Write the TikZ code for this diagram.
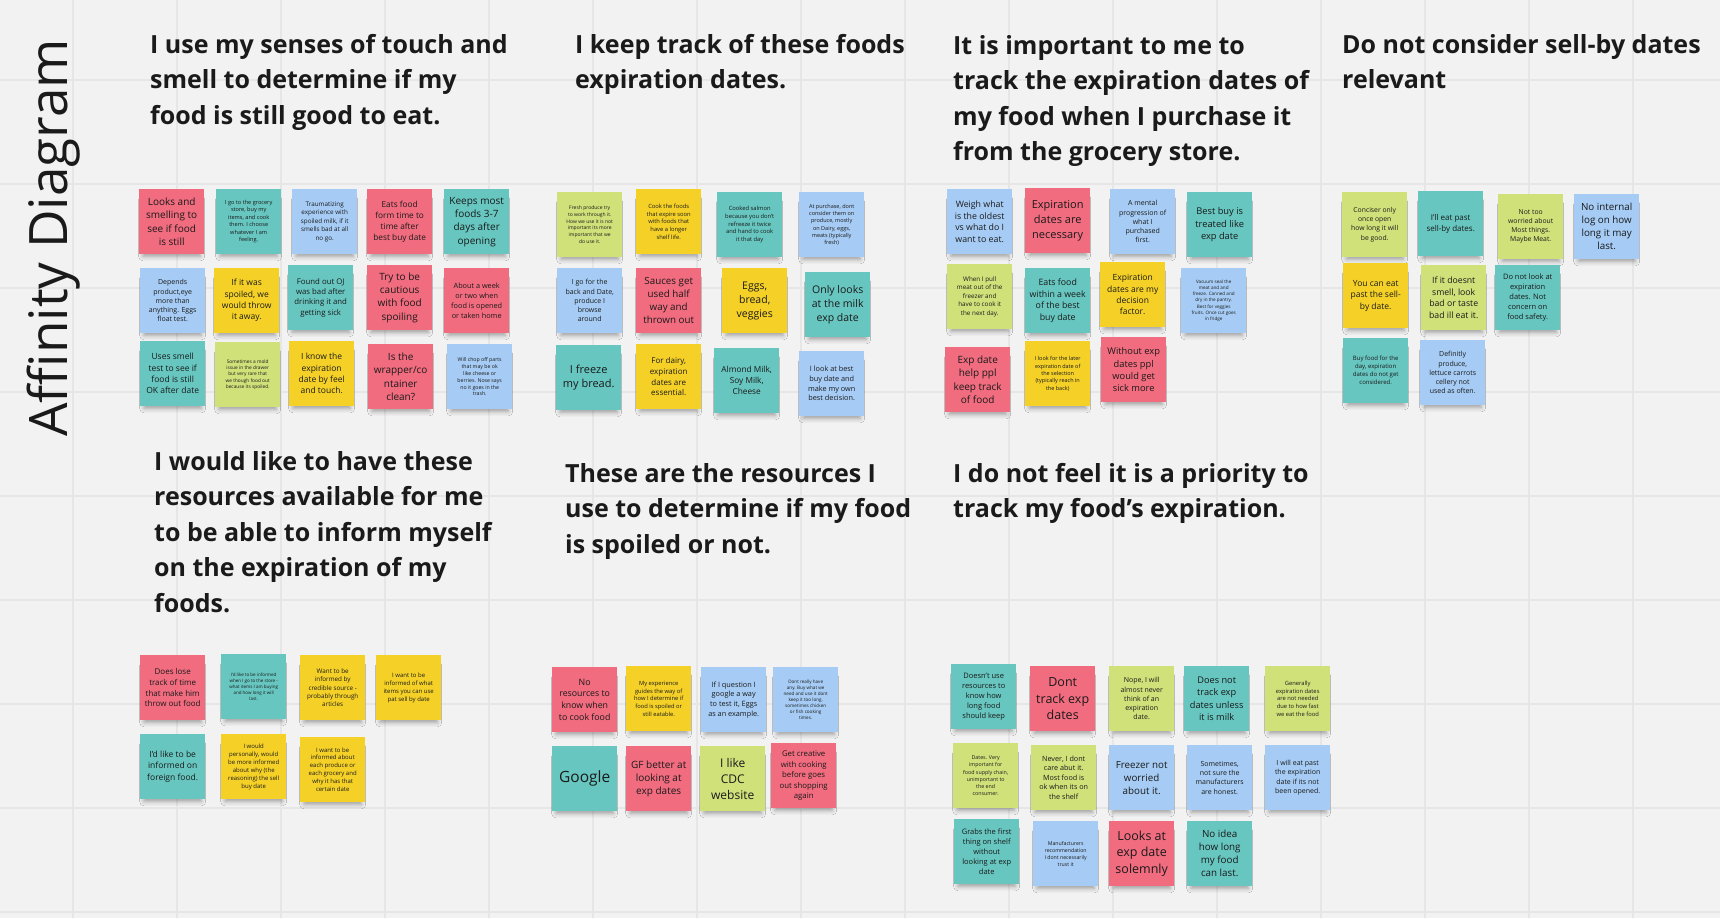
\documentclass[tikz,border=0pt]{standalone}
\usepackage{fontspec}
\setmainfont{Open Sans}
\usepackage{tikz}
\usetikzlibrary{shadows.blur}
\definecolor{BoardGray}{HTML}{F2F2F2}
\definecolor{GridGray}{HTML}{E6E6E6}
\definecolor{NotePink}{HTML}{F16C7F}
\definecolor{NoteTeal}{HTML}{67C6C0}
\definecolor{NoteBlue}{HTML}{A6CCF5}
\definecolor{NoteYellow}{HTML}{F5D128}
\definecolor{NoteLime}{HTML}{D0E17A}
\definecolor{InkText}{HTML}{1A1A1A}
\newcommand{\fs}[1]{\pgfmathsetmacro\notebls{1.33*#1}\fontsize{#1}{\notebls}\selectfont}
\tikzset{
  sticky/.style={fill=#1, minimum width=65, minimum height=65, inner sep=0pt,
    anchor=north west, align=center, text=InkText,
    blur shadow={shadow xshift=0pt, shadow yshift=-7pt, shadow blur radius=5pt,
      shadow opacity=35, shadow scale=0.88}},
  heading/.style={anchor=north west, inner sep=0pt, align=left, text=InkText,
    font=\fontsize{25}{35.5}\selectfont\bfseries},
}

\begin{document}
\begin{tikzpicture}[x=1pt, y=-1pt]
  \useasboundingbox (0,0) rectangle (1720,918);
  \fill[BoardGray] (0,0) rectangle (1720,918);
  \foreach \gx in {73,177,...,1720}
    \draw[GridGray, line width=1.2] (\gx,0) -- (\gx,918);
  \foreach \gy in {80,184,...,918}
    \draw[GridGray, line width=1.2] (0,\gy) -- (1720,\gy);

  \node (title) [rotate=90, anchor=base west, inner sep=0pt, text=InkText,
    font=\fontsize{53}{60}\selectfont] at (67,437) {Affinity Diagram};

  % headings
  \node (hSenses) [heading] at (150,34) {I use my senses of touch and\\smell to determine if my\\food is still good to eat.};
  \node (hTrack) [heading] at (575,34) {I keep track of these foods\\expiration dates.};
  \node (hPurchase) [heading] at (953,35) {It is important to me to\\track the expiration dates of\\my food when I purchase it\\from the grocery store.};
  \node (hSellby) [heading] at (1342,34) {Do not consider sell-by dates\\relevant};
  \node (hInform) [heading] at (154,451) {I would like to have these\\resources available for me\\to be able to inform myself\\on the expiration of my\\foods.};
  \node (hResources) [heading] at (565,463) {These are the resources I\\use to determine if my food\\is spoiled or not.};
  \node (hPriority) [heading] at (953,463) {I do not feel it is a priority to\\track my food's expiration.};

  % senses of touch and smell
  \node (senses1) [sticky=NotePink, font=\fs{10}] at (139,189) {Looks and\\smelling to\\see if food\\is still};
  \node (senses2) [sticky=NoteTeal, font=\fs{5.6}] at (216,189) {I go to the grocery\\store, buy my\\items, and cook\\them. I choose\\whatever I am\\feeling.};
  \node (senses3) [sticky=NoteBlue, font=\fs{6.3}] at (292,189) {Traumatizing\\experience with\\spoiled milk, if it\\smells bad at all\\no go.};
  \node (senses4) [sticky=NotePink, font=\fs{8.3}] at (367,189) {Eats food\\form time to\\time after\\best buy date};
  \node (senses5) [sticky=NoteTeal, font=\fs{10}] at (444,189) {Keeps most\\foods 3-7\\days after\\opening};
  \node (senses6) [sticky=NoteBlue, font=\fs{7}] at (140,268) {Depends\\product,eye\\more than\\anything. Eggs\\float test.};
  \node (senses7) [sticky=NoteYellow, font=\fs{8.5}] at (214,268) {If it was\\spoiled, we\\would throw\\it away.};
  \node (senses8) [sticky=NoteTeal, font=\fs{7.8}] at (288,265) {Found out OJ\\was bad after\\drinking it and\\getting sick};
  \node (senses9) [sticky=NotePink, font=\fs{10}] at (367,265) {Try to be\\cautious\\with food\\spoiling};
  \node (senses10) [sticky=NotePink, font=\fs{7.3}] at (444,268) {About a week\\or two when\\food is opened\\or taken home};
  \node (senses11) [sticky=NoteTeal, font=\fs{8.5}] at (140,341) {Uses smell\\test to see if\\food is still\\OK after date};
  \node (senses12) [sticky=NoteLime, font=\fs{4.8}] at (215,342) {Sometimes a mold\\issue in the drawer\\but very rare that\\we though food out\\because its spoiled.};
  \node (senses13) [sticky=NoteYellow, font=\fs{8.5}] at (289,341) {I know the\\expiration\\date by feel\\and touch.};
  \node (senses14) [sticky=NotePink, font=\fs{10}] at (368,344) {Is the\\wrapper/co\\ntainer\\clean?};
  \node (senses15) [sticky=NoteBlue, font=\fs{5.2}] at (447,344) {Will chop off parts\\that may be ok\\like cheese or\\berries. Nose says\\no it goes in the\\trash.};

  % keep track of expiration dates
  \node (track1) [sticky=NoteLime, font=\fs{5}] at (557,192) {Fresh produce try\\to work through it.\\How we use it is not\\important its more\\important that we\\do use it.};
  \node (track2) [sticky=NoteYellow, font=\fs{5.8}] at (636,189) {Cook the foods\\that expire soon\\with foods that\\have a longer\\shelf life.};
  \node (track3) [sticky=NoteTeal, font=\fs{5.8}] at (717,192) {Cooked salmon\\because you don't\\refreeze it twice\\and hand to cook\\it that day};
  \node (track4) [sticky=NoteBlue, font=\fs{5.5}] at (799,192) {At purchase, dont\\consider them on\\produce, mostly\\on Dairy, eggs,\\meats (typically\\fresh)};
  \node (track5) [sticky=NoteBlue, font=\fs{7}] at (557,268) {I go for the\\back and Date,\\produce I\\browse\\around};
  \node (track6) [sticky=NotePink, font=\fs{9.8}] at (636,268) {Sauces get\\used half\\way and\\thrown out};
  \node (track7) [sticky=NoteYellow, font=\fs{10.5}] at (722,268) {Eggs,\\bread,\\veggies};
  \node (track8) [sticky=NoteTeal, font=\fs{10.5}] at (805,272) {Only looks\\at the milk\\exp date};
  \node (track9) [sticky=NoteTeal, font=\fs{11}] at (556,345) {I freeze\\my bread.};
  \node (track10) [sticky=NoteYellow, font=\fs{8}] at (636,344) {For dairy,\\expiration\\dates are\\essential.};
  \node (track11) [sticky=NoteTeal, font=\fs{8.3}] at (714,348) {Almond Milk,\\Soy Milk,\\Cheese};
  \node (track12) [sticky=NoteBlue, font=\fs{7.3}] at (799,351) {I look at best\\buy date and\\make my own\\best decision.};

  % track when I purchase
  \node (purchase1) [sticky=NoteBlue, font=\fs{8.8}] at (947,189) {Weigh what\\is the oldest\\vs what do I\\want to eat.};
  \node (purchase2) [sticky=NotePink, font=\fs{11}] at (1025,188) {Expiration\\dates are\\necessary};
  \node (purchase3) [sticky=NoteBlue, font=\fs{7}] at (1110,189) {A mental\\progression of\\what I\\purchased\\first.};
  \node (purchase4) [sticky=NoteTeal, font=\fs{9.3}] at (1187,192) {Best buy is\\treated like\\exp date};
  \node (purchase5) [sticky=NoteLime, font=\fs{6.3}] at (947,264) {When I pull\\meat out of the\\freezer and\\have to cook it\\the next day.};
  \node (purchase6) [sticky=NoteTeal, font=\fs{8.8}] at (1025,268) {Eats food\\within a week\\of the best\\buy date};
  \node (purchase7) [sticky=NoteYellow, font=\fs{8.5}] at (1100,262) {Expiration\\dates are my\\decision\\factor.};
  \node (purchase8) [sticky=NoteBlue, font=\fs{4.6}] at (1181,268) {Vacuum seal the\\meat and and\\freeze. Canned and\\dry in the pantry.\\Best for veggies\\fruits. Once cut goes\\in fridge};
  \node (purchase9) [sticky=NotePink, font=\fs{10}] at (945,347) {Exp date\\help ppl\\keep track\\of food};
  \node (purchase10) [sticky=NoteYellow, font=\fs{5.5}] at (1025,341) {I look for the later\\expiration date of\\the selection\\(typically reach in\\the back)};
  \node (purchase11) [sticky=NotePink, font=\fs{9.3}] at (1101,337) {Without exp\\dates ppl\\would get\\sick more};

  % sell-by dates
  \node (sellby1) [sticky=NoteLime, font=\fs{6.8}] at (1342,192) {Conciser only\\once open\\how long it will\\be good.};
  \node (sellby2) [sticky=NoteTeal, font=\fs{8}] at (1418,191) {I'll eat past\\sell-by dates.};
  \node (sellby3) [sticky=NoteLime, font=\fs{6.8}] at (1498,194) {Not too\\worried about\\Most things.\\Maybe Meat.};
  \node (sellby4) [sticky=NoteBlue, font=\fs{9.8}] at (1574,194) {No internal\\log on how\\long it may\\last.};
  \node (sellby5) [sticky=NoteYellow, font=\fs{8.5}] at (1343,263) {You can eat\\past the sell-\\by date.};
  \node (sellby6) [sticky=NoteLime, font=\fs{8.7}] at (1421,265) {If it doesnt\\smell, look\\bad or taste\\bad ill eat it.};
  \node (sellby7) [sticky=NoteTeal, font=\fs{7.5}] at (1495,265) {Do not look at\\expiration\\dates. Not\\concern on\\food safety.};
  \node (sellby8) [sticky=NoteTeal, font=\fs{6}] at (1343,338) {Buy food for the\\day, expiration\\dates do not get\\considered.};
  \node (sellby9) [sticky=NoteBlue, font=\fs{7}] at (1420,340) {Definitly\\produce,\\lettuce carrots\\cellery not\\used as often.};

  % resources to inform myself
  \node (inform1) [sticky=NotePink, font=\fs{8}] at (140,655) {Does lose\\track of time\\that make him\\throw out food};
  \node (inform2) [sticky=NoteTeal, font=\fs{4.5}] at (221,654) {I'd like to be informed\\when I go to the store -\\what items I am buying\\and how long it will\\last.};
  \node (inform3) [sticky=NoteYellow, font=\fs{6.3}] at (300,655) {Want to be\\informed by\\credible source -\\probably through\\articles};
  \node (inform4) [sticky=NoteYellow, font=\fs{6}] at (376,655) {I want to be\\informed of what\\items you can use\\pat sell by date};
  \node (inform5) [sticky=NoteTeal, font=\fs{8.5}] at (140,734) {I'd like to be\\informed on\\foreign food.};
  \node (inform6) [sticky=NoteYellow, font=\fs{6}] at (221,734) {I would\\personally, would\\be more informed\\about why (the\\reasoning) the sell\\buy date};
  \node (inform7) [sticky=NoteYellow, font=\fs{6}] at (300,737) {I want to be\\informed about\\each produce or\\each grocery and\\why it has that\\certain date};

  % resources I use
  \node (spoiled1) [sticky=NotePink, font=\fs{8.8}] at (552,667) {No\\resources to\\know when\\to cook food};
  \node (spoiled2) [sticky=NoteYellow, font=\fs{5.8}] at (626,666) {My experience\\guides the way of\\how I determine if\\food is spoiled or\\still eatable.};
  \node (spoiled3) [sticky=NoteBlue, font=\fs{7.3}] at (701,667) {If I question I\\google a way\\to test it, Eggs\\as an example.};
  \node (spoiled4) [sticky=NoteBlue, font=\fs{4.6}] at (773,667) {Dont really have\\any. Buy what we\\need and use it dont\\keep it too long.\\sometimes chicken\\or fish cooking\\times.};
  \node (spoiled5) [sticky=NoteTeal, font=\fs{15.5}] at (552,746) {Google};
  \node (spoiled6) [sticky=NotePink, font=\fs{10}] at (626,746) {GF better at\\looking at\\exp dates};
  \node (spoiled7) [sticky=NoteLime, font=\fs{12}] at (700,746) {I like\\CDC\\website};
  \node (spoiled8) [sticky=NotePink, font=\fs{7.8}] at (771,743) {Get creative\\with cooking\\before goes\\out shopping\\again};

  % not a priority
  \node (priority1) [sticky=NoteTeal, font=\fs{7.5}] at (951,664) {Doesn't use\\resources to\\know how\\long food\\should keep};
  \node (priority2) [sticky=NotePink, font=\fs{12.5}] at (1030,666) {Dont\\track exp\\dates};
  \node (priority3) [sticky=NoteLime, font=\fs{7}] at (1109,666) {Nope, I will\\almost never\\think of an\\expiration\\date.};
  \node (priority4) [sticky=NoteTeal, font=\fs{9.2}] at (1184,666) {Does not\\track exp\\dates unless\\it is milk};
  \node (priority5) [sticky=NoteLime, font=\fs{5.8}] at (1265,666) {Generally\\expiration dates\\are not needed\\due to how fast\\we eat the food};
  \node (priority6) [sticky=NoteLime, font=\fs{5.3}] at (953,743) {Dates. Very\\important for\\food supply chain,\\unimportant to\\the end\\consumer.};
  \node (priority7) [sticky=NoteLime, font=\fs{7.2}] at (1031,745) {Never, I dont\\care abut it.\\Most food is\\ok when its on\\the shelf};
  \node (priority8) [sticky=NoteBlue, font=\fs{9.8}] at (1109,745) {Freezer not\\worried\\about it.};
  \node (priority9) [sticky=NoteBlue, font=\fs{7}] at (1187,745) {Sometimes,\\not sure the\\manufacturers\\are honest.};
  \node (priority10) [sticky=NoteBlue, font=\fs{7}] at (1265,745) {I will eat past\\the expiration\\date if its not\\been opened.};
  \node (priority11) [sticky=NoteTeal, font=\fs{7.5}] at (954,819) {Grabs the first\\thing on shelf\\without\\looking at exp\\date};
  \node (priority12) [sticky=NoteBlue, font=\fs{5.2}] at (1033,821) {Manufacturers\\recommendation\\I dont necessarily\\trust it};
  \node (priority13) [sticky=NotePink, font=\fs{12.5}] at (1109,821) {Looks at\\exp date\\solemnly};
  \node (priority14) [sticky=NoteTeal, font=\fs{9.8}] at (1187,821) {No idea\\how long\\my food\\can last.};
\end{tikzpicture}
\end{document}
